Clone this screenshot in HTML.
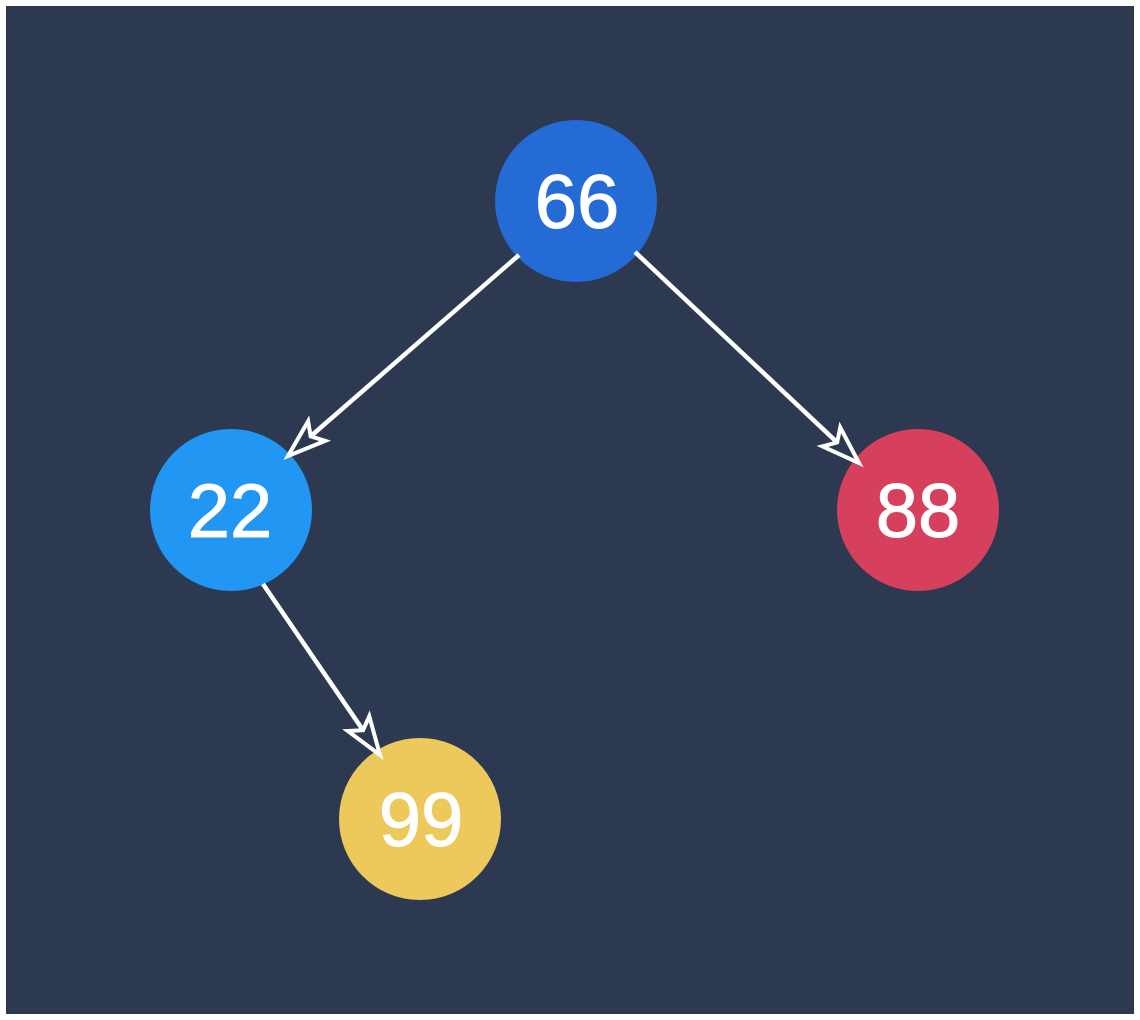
<!DOCTYPE html>
<html><head><style>
html,body{margin:0;padding:0;background:#fff;width:1140px;height:1020px;overflow:hidden}
svg{display:block}
text{font-family:"Liberation Sans",Arial,sans-serif;font-size:76px;fill:#fff;text-anchor:middle;stroke:#fff;stroke-width:1}
</style></head><body>
<svg width="1140" height="1020" viewBox="0 0 1140 1020">
<defs>
<marker id="a" markerUnits="userSpaceOnUse" markerWidth="60" markerHeight="40" refX="38" refY="0" viewBox="-6 -20 50 40" orient="auto" overflow="visible">
<path d="M0,-13 L38,0 L0,13 L8,0 Z" fill="#2c3950" stroke="#fff" stroke-width="4" stroke-linejoin="miter"/>
</marker>
</defs>
<rect x="6" y="6" width="1128" height="1008" fill="#2c3950"/>
<circle cx="576" cy="201" r="81" fill="#246bd6"/>
<circle cx="231" cy="510" r="81" fill="#2196f3"/>
<circle cx="918" cy="510" r="81" fill="#d6405d"/>
<circle cx="420" cy="819" r="81" fill="#edc95c"/>
<line x1="519" y1="255" x2="288" y2="456" stroke="#fff" stroke-width="4.5" marker-end="url(#a)"/>
<line x1="635" y1="252" x2="859" y2="463" stroke="#fff" stroke-width="4.5" marker-end="url(#a)"/>
<line x1="263" y1="584" x2="380" y2="755" stroke="#fff" stroke-width="4.5" marker-end="url(#a)"/>
<text x="577" y="228">66</text>
<text x="230" y="537">22</text>
<text x="918" y="537">88</text>
<text x="421" y="846">99</text>
</svg>
</body></html>
